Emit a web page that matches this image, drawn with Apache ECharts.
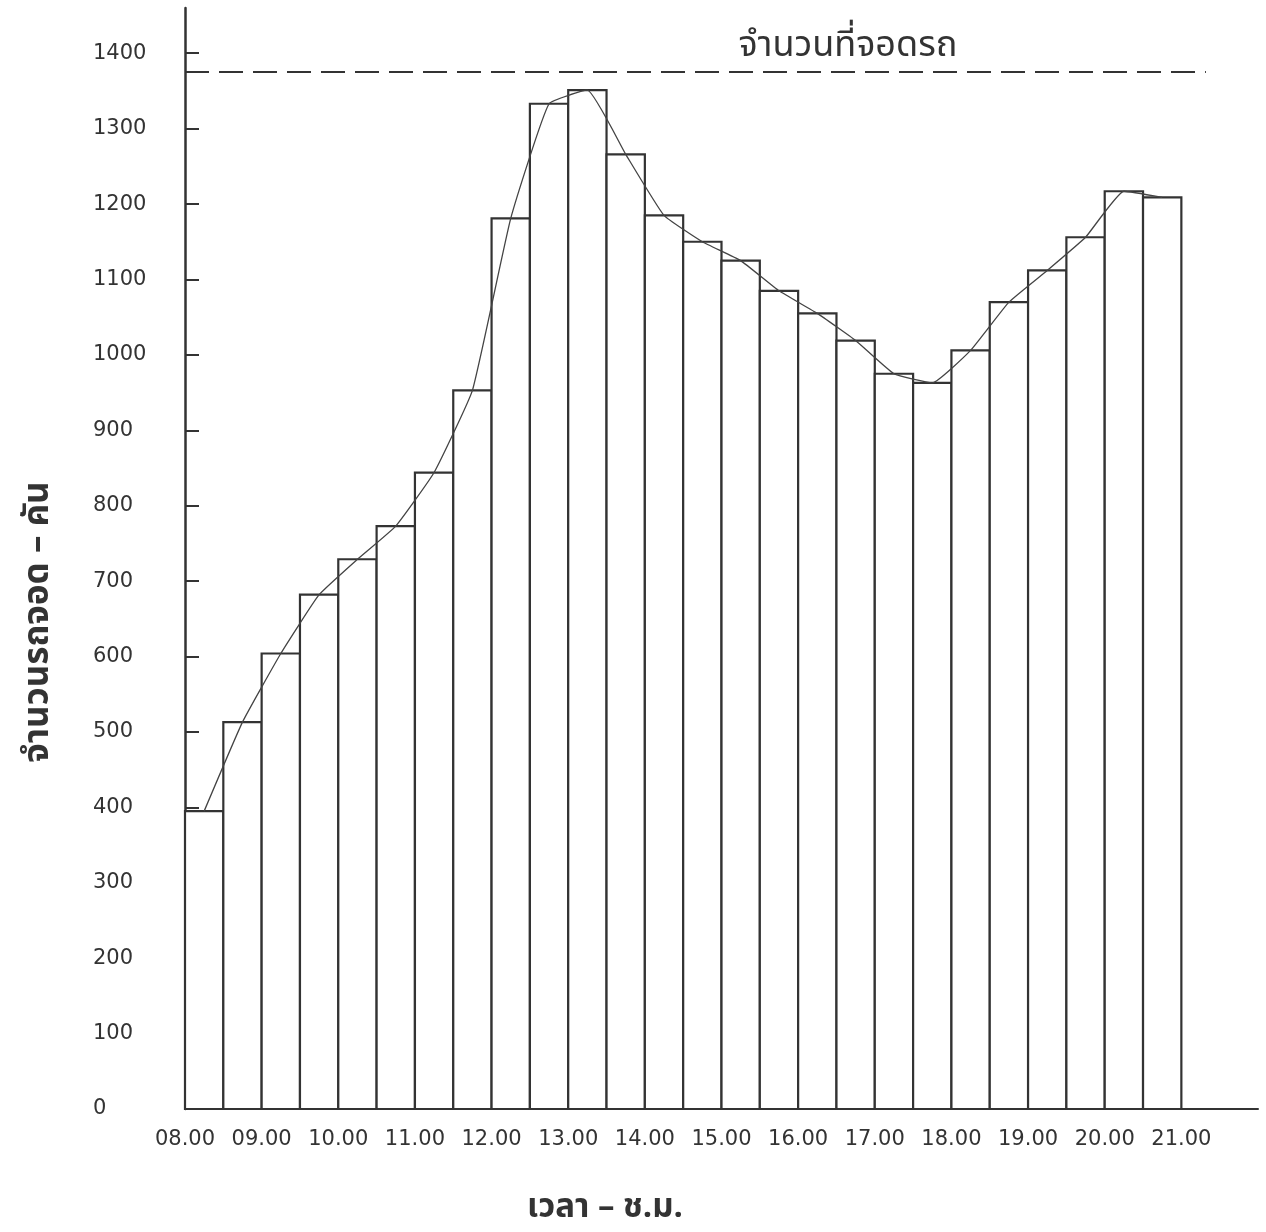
<!DOCTYPE html>
<html>
<head>
<meta charset="utf-8">
<script src="https://cdn.jsdelivr.net/npm/echarts@6/dist/echarts.min.js"></script>
<style>
  html, body { margin: 0; padding: 0; background: #ffffff; }
  #chart { width: 1266px; height: 1232px; }
</style>
</head>
<body>
<div id="chart"></div>
<script>
// Bin boundaries (hours): 08.00 ... 21.00 in half-hour steps
const binEdges = [8.0, 8.5, 9.0, 9.5, 10.0, 10.5, 11.0, 11.5, 12.0, 12.5, 13.0, 13.5, 14.0,
                  14.5, 15.0, 15.5, 16.0, 16.5, 17.0, 17.5, 18.0, 18.5, 19.0, 19.5, 20.0, 20.5, 21.0];
// Number of parked cars in each half-hour bin
const parkedCars = [395, 513, 604, 682, 729, 773, 844, 953, 1181, 1333, 1351, 1266, 1185,
                    1150, 1125, 1085, 1055, 1019, 975, 963, 1006, 1070, 1112, 1156, 1217, 1209];
// Parking capacity
const capacity = 1375;
const capacityLabel = 'จำนวนที่จอดรถ';
// Axis ticks
const xTickValues = [8, 9, 10, 11, 12, 13, 14, 15, 16, 17, 18, 19, 20, 21];
const xTickLabels = ['08.00', '09.00', '10.00', '11.00', '12.00', '13.00', '14.00',
                     '15.00', '16.00', '17.00', '18.00', '19.00', '20.00', '21.00'];
const yTickValues = [0, 100, 200, 300, 400, 500, 600, 700, 800, 900, 1000, 1100, 1200, 1300, 1400];
const yTickLabels = ['0', '100', '200', '300', '400', '500', '600', '700', '800', '900',
                     '1000', '1100', '1200', '1300', '1400'];
const xTitle = 'เวลา – ช.ม.';
const yTitle = 'จำนวนรถจอด – คัน';

const INK = '#333333';
const THAI_FONT = "'Noto Sans Thai', 'Noto Sans Thai Looped', 'Loma', 'Garuda', 'Noto Sans', 'DejaVu Sans', sans-serif";

const barData = parkedCars.map((v, i) => [binEdges[i], binEdges[i + 1], v]);
const lineData = parkedCars.map((v, i) => [(binEdges[i] + binEdges[i + 1]) / 2, v]);

const chart = echarts.init(document.getElementById('chart'), null, { renderer: 'canvas' });
chart.setOption({
  backgroundColor: '#ffffff',
  animation: false,
  grid: { left: 185, right: 8, top: 8, bottom: 123, containLabel: false },
  xAxis: {
    type: 'value', min: 8, max: 22,
    axisLine: { show: true, onZero: false, lineStyle: { color: INK, width: 2 } },
    axisTick: { show: false },
    splitLine: { show: false },
    axisLabel: {
      customValues: xTickValues,
      formatter: v => { const i = xTickValues.indexOf(v); return i >= 0 ? xTickLabels[i] : ''; },
      margin: 20, color: INK, fontSize: 21, fontFamily: 'DejaVu Sans'
    }
  },
  yAxis: {
    type: 'value', min: 0, max: 1460,
    axisLine: { show: true, lineStyle: { color: INK, width: 2.5 } },
    axisTick: { show: true, inside: true, length: 14, customValues: yTickValues, lineStyle: { color: INK, width: 2 } },
    splitLine: { show: false },
    axisLabel: {
      customValues: yTickValues,
      formatter: v => { const i = yTickValues.indexOf(v); return i >= 0 ? yTickLabels[i] : ''; },
      align: 'left', margin: 92, color: INK, fontSize: 21, fontFamily: 'DejaVu Sans'
    }
  },
  series: [
    {
      type: 'custom',
      data: barData,
      encode: { x: [0, 1], y: 2 },
      renderItem: (params, api) => {
        const p0 = api.coord([api.value(0), 0]);
        const p1 = api.coord([api.value(1), api.value(2)]);
        return {
          type: 'rect',
          shape: { x: p0[0], y: p1[1], width: p1[0] - p0[0], height: p0[1] - p1[1] },
          style: { fill: '#ffffff', stroke: INK, lineWidth: 2.2 }
        };
      },
      markLine: {
        silent: true, symbol: 'none',
        lineStyle: { color: INK, width: 2, type: [24, 10] },
        label: { show: false },
        data: [[{ coord: [8, capacity] }, { coord: [21.32, capacity] }]]
      },
      z: 2
    },
    {
      type: 'line',
      data: lineData,
      showSymbol: false,
      smooth: 0.12,
      lineStyle: { color: '#444444', width: 1.3 },
      z: 3
    }
  ],
  graphic: [
    {
      type: 'text', x: 848, y: 67,
      style: { text: capacityLabel, fill: INK, font: "36px " + THAI_FONT, align: 'center', verticalAlign: 'bottom' }
    },
    {
      type: 'text', x: 605, y: 1210,
      style: { text: xTitle, fill: INK, font: "bold 33px " + THAI_FONT, align: 'center', verticalAlign: 'middle' }
    },
    {
      type: 'text', x: 41, y: 622, rotation: Math.PI / 2,
      style: { text: yTitle, fill: INK, font: "bold 35px " + THAI_FONT, align: 'center', verticalAlign: 'middle' }
    }
  ]
});
</script>
</body>
</html>
